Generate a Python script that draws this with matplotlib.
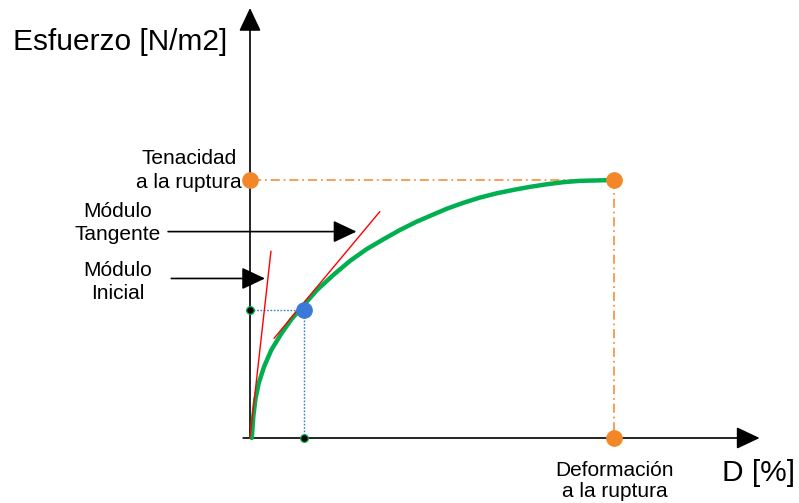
import matplotlib
matplotlib.use("Agg")
import matplotlib.pyplot as plt

plt.rcParams['font.family'] = ['Liberation Sans', 'DejaVu Sans']

# ---- data (schematic units: strain %, stress) ----
curve_x = [0.04, 0.073, 0.116, 0.19, 0.31, 0.47, 0.69, 0.91, 1.47, 1.83, 2.20,
           2.56, 2.93, 3.30, 3.66, 4.10, 4.32, 4.69, 5.05, 5.42, 5.79, 6.15,
           6.52, 6.89, 7.25, 7.62, 8.0]
curve_y = [0.0, 0.50, 0.88, 1.27, 1.66, 2.05, 2.43, 2.76, 3.44, 3.79, 4.12,
           4.39, 4.62, 4.84, 5.03, 5.23, 5.33, 5.47, 5.59, 5.69, 5.77, 5.84,
           5.90, 5.95, 5.98, 5.99, 6.0]

rupture_strain = 8.0
rupture_stress = 6.0
tangent_pt = (1.19, 2.98)

initial_line_x = [0.0, 0.46]
initial_line_y = [0.0, 4.34]
tangent_line_x = [0.53, 2.85]
tangent_line_y = [2.32, 5.26]

labels_tenacidad = ["Tenacidad", "a la ruptura"]
labels_tangente = ["Módulo", "Tangente"]
labels_inicial = ["Módulo", "Inicial"]
labels_deform = ["Deformación", "a la ruptura"]

# ---- figure ----
W, H = 799, 503
fig = plt.figure(figsize=(W / 100, H / 100), dpi=100)
ax = fig.add_axes([0, 0, 1, 1])
ax.axis('off')
PXX, PXY = 45.5, 43.0
OX, OY = 250, 438
ax.set_xlim((0 - OX) / PXX, (W - OX) / PXX)
ax.set_ylim((OY - H) / PXY, (OY - 0) / PXY)

orange = '#F4862A'
green = '#00B050'
blue = '#3C78D8'

arrow_kw = dict(arrowstyle='-|>,head_length=0.72,head_width=0.34', mutation_scale=20,
                color='black', lw=1.2, shrinkA=0, shrinkB=0)

# axes arrows
ax.annotate('', xy=(11.2, 0), xytext=(-0.15, 0), arrowprops=arrow_kw, annotation_clip=False)
ax.annotate('', xy=(0, 10.0), xytext=(0, 0), arrowprops=arrow_kw, annotation_clip=False)

# reference lines
dashdot = (0, (6, 2.5, 1.2, 2.5))
ax.plot([0.05, rupture_strain], [rupture_stress, rupture_stress], color=orange, lw=1.1,
        ls=dashdot, zorder=2)
ax.plot([rupture_strain, rupture_strain], [rupture_stress, 0], color=orange, lw=1.1,
        ls=dashdot, zorder=2)
ax.plot([0, tangent_pt[0]], [tangent_pt[1], tangent_pt[1]], color=blue, lw=1.0,
        ls=(0, (1.2, 1.2)), zorder=2)
ax.plot([tangent_pt[0], tangent_pt[0]], [tangent_pt[1], 0], color=blue, lw=1.0,
        ls=(0, (1.2, 1.2)), zorder=2)

# curve
ax.plot(curve_x, curve_y, color=green, lw=3.2, solid_capstyle='round',
        solid_joinstyle='round', zorder=3)

# modulus lines
ax.plot(initial_line_x, initial_line_y, color='red', lw=1.0, zorder=4)
ax.plot(tangent_line_x, tangent_line_y, color='red', lw=1.0, zorder=4)

# points
ax.plot([0, rupture_strain, rupture_strain], [rupture_stress, rupture_stress, 0], 'o',
        color=orange, ms=11, zorder=5, clip_on=False)
ax.plot([tangent_pt[0]], [tangent_pt[1]], 'o', color=blue, ms=11, zorder=5)
ax.plot([0, tangent_pt[0]], [tangent_pt[1], 0], 'o', color='black', ms=5.5,
        mec=green, mew=0.9, zorder=6, clip_on=False)

# pointer arrows
ax.annotate('', xy=(2.34, 4.8), xytext=(-1.8, 4.8), arrowprops=arrow_kw)
ax.annotate('', xy=(0.33, 3.71), xytext=(-1.73, 3.71), arrowprops=arrow_kw)

# texts
fs = 15
big = 21.5
ax.text(-5.21, 9.02, "Esfuerzo [N/m2]", fontsize=big, ha='left', va='baseline')
ax.text(11.17, -1.0, "D [%]", fontsize=big, ha='center', va='baseline')
for t, y in zip(labels_tenacidad, [6.37, 5.81]):
    ax.text(-1.34, y, t, fontsize=fs, ha='center', va='baseline')
for t, y in zip(labels_tangente, [5.14, 4.60]):
    ax.text(-2.90, y, t, fontsize=fs, ha='center', va='baseline')
for t, y in zip(labels_inicial, [3.77, 3.23]):
    ax.text(-2.90, y, t, fontsize=fs, ha='center', va='baseline')
for t, y in zip(labels_deform, [-0.88, -1.37]):
    ax.text(8.02, y, t, fontsize=fs, ha='center', va='baseline')

fig.savefig('out.png', dpi=100)
